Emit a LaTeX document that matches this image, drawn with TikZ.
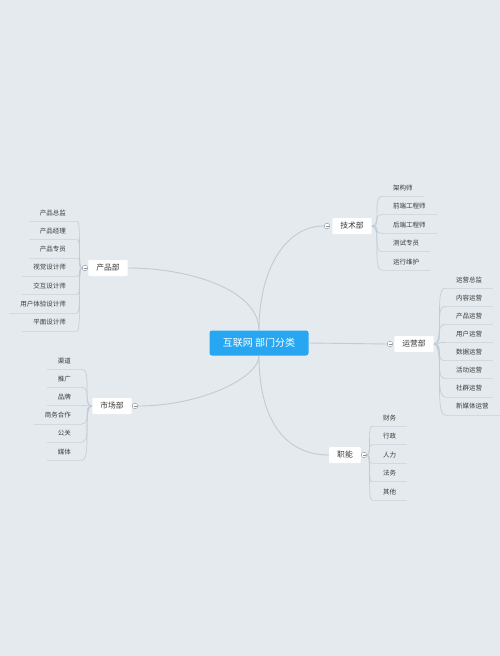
\documentclass[tikz,border=0pt]{standalone}
\usepackage{fontspec}
\newfontfamily\cjk{Noto Sans CJK SC}
\definecolor{bgcol}{HTML}{E4EAEE}
\definecolor{rootblue}{HTML}{27A7F1}
\definecolor{linecol}{HTML}{C2CAD4}
\definecolor{ulcol}{HTML}{D2D9E0}
\definecolor{txtcol}{HTML}{3A3A3A}
\tikzset{%
  % Specifications for style of nodes:
  base/.style = {
    rectangle,
    text centered,
    text=txtcol,
    font=\cjk
  },
  root/.style = {base, fill=rootblue, text=white, rounded corners=2.5pt,
                 minimum width=99pt, minimum height=25pt,
                 font=\cjk\fontsize{10}{12}\selectfont},
  dept/.style = {base, fill=white, rounded corners=1pt, inner xsep=8pt,
                 minimum height=16pt, text height=6pt, text depth=1pt,
                 font=\cjk\fontsize{7.8}{9}\selectfont},
  leaf/.style = {base, inner xsep=11pt, inner ysep=5pt,
                 text height=5pt, text depth=1pt,
                 font=\cjk\fontsize{6.5}{8}\selectfont},
  fold/.style = {circle, draw=linecol!80!black, fill=white, line width=0.5pt,
                 minimum size=5.6pt, inner sep=0pt,
                 path picture={\draw[linecol!70!black, line width=0.4pt]
                   ([xshift=-1.5pt]path picture bounding box.center) --
                   ([xshift=1.5pt]path picture bounding box.center);}},
  branch/.style = {draw=linecol, line width=0.9pt},
  twig/.style = {draw=linecol, line width=0.6pt},
  uline/.style = {draw=ulcol, line width=0.6pt},
}
\begin{document}
\begin{tikzpicture}[x=1pt, y=-1pt]
  \path[use as bounding box, fill=bgcol] (0,0) rectangle (500,656);
  % nodes
  \node (root) [root] at (259,343) {互联网 部门分类};
  \node (tech) [dept] at (352,226) {技术部};
  \node (tech_c) [fold] at (327,226) {};
  \node (ops) [dept] at (414,344) {运营部};
  \node (ops_c) [fold] at (390,344) {};
  \node (func) [dept] at (345,455) {职能};
  \node (func_c) [fold] at (364,455) {};
  \node (prod) [dept] at (108,268) {产品部};
  \node (prod_c) [fold] at (85,268) {};
  \node (mkt) [dept] at (112,406) {市场部};
  \node (mkt_c) [fold] at (135,406) {};
  % lines
  \draw[branch] (root.north) .. controls (259,270) and (285,226) .. (tech_c.west);
  \draw[branch] (root.east) -- (ops_c.west);
  \draw[branch] (root.south) .. controls (259,420) and (285,455) .. (func.west);
  \draw[branch] (root.north) .. controls (259,290) and (190,268) .. (prod.east);
  \draw[branch] (root.south) .. controls (259,378) and (200,406) .. (mkt_c.east);
  % children on the right
  \foreach \t [count=\i] in {架构师,前端工程师,后端工程师,测试专员,运行维护} {
    \node (tech_\i) [leaf, anchor=west] at (382,169.5+18.5*\i) {\t};
    \draw[twig] (tech.east) .. controls (tech_\i.south west |- tech.east)
      and (tech.east |- tech_\i.south west) .. (tech_\i.south west);
    \draw[uline] (tech_\i.south west) -- (tech_\i.south east);
  }
  \foreach \t [count=\i] in {运营总监,内容运营,产品运营,用户运营,数据运营,活动运营,社群运营,新媒体运营} {
    \node (ops_\i) [leaf, anchor=west] at (445,261.9+18.1*\i) {\t};
    \draw[twig] (ops.east) .. controls (ops_\i.south west |- ops.east)
      and (ops.east |- ops_\i.south west) .. (ops_\i.south west);
    \draw[uline] (ops_\i.south west) -- (ops_\i.south east);
  }
  \foreach \t [count=\i] in {财务,行政,人力,法务,其他} {
    \node (func_\i) [leaf, anchor=west] at (372,399.5+18.5*\i) {\t};
    \draw[twig] (func_c.east) .. controls (func_\i.south west |- func_c.east)
      and (func_c.east |- func_\i.south west) .. (func_\i.south west);
    \draw[uline] (func_\i.south west) -- (func_\i.south east);
  }
  % children on the left
  \foreach \t [count=\i] in {产品总监,产品经理,产品专员,视觉设计师,交互设计师,用户体验设计师,平面设计师} {
    \node (prod_\i) [leaf, anchor=east] at (77,194.67+18.33*\i) {\t};
    \draw[twig] (prod_c.west) .. controls (prod_\i.south east |- prod_c.west)
      and (prod_c.west |- prod_\i.south east) .. (prod_\i.south east);
    \draw[uline] (prod_\i.south east) -- (prod_\i.south west);
  }
  \foreach \t [count=\i] in {渠道,推广,品牌,商务合作,公关,媒体} {
    \node (mkt_\i) [leaf, anchor=east] at (82,342.8+18.2*\i) {\t};
    \draw[twig] (mkt.west) .. controls (mkt_\i.south east |- mkt.west)
      and (mkt.west |- mkt_\i.south east) .. (mkt_\i.south east);
    \draw[uline] (mkt_\i.south east) -- (mkt_\i.south west);
  }
\end{tikzpicture}
\end{document}
